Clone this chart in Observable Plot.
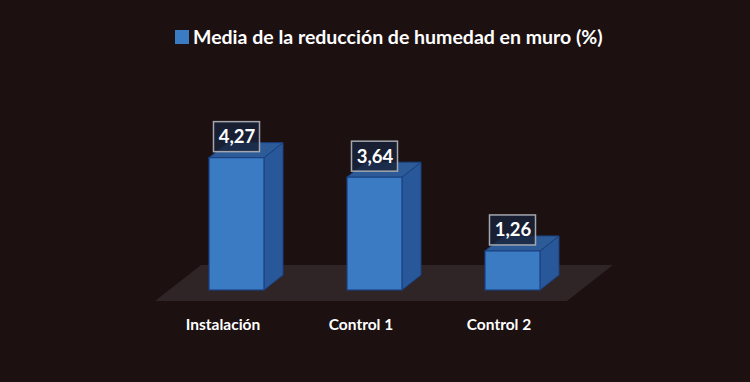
<!DOCTYPE html>
<html><head><meta charset="utf-8">
<script src="https://cdn.jsdelivr.net/npm/d3@7"></script>
<script src="https://cdn.jsdelivr.net/npm/@observablehq/plot@0.6"></script>
<style>
html,body{margin:0;padding:0;background:#1c1011;}
#wrap{position:relative;width:750px;height:382px;}
#legend{position:absolute;left:175px;top:25px;display:flex;align-items:center;font-family:Lato,sans-serif;font-weight:bold;font-size:19.5px;color:#fff;white-space:nowrap;}
#legend .sw{width:14px;height:14px;background:#3b7bc4;margin-right:4px;}
#chart{position:absolute;left:0;top:0;}
</style></head><body>
<div id="wrap"><div id="chart"></div><div id="legend"><span class="sw"></span><span>Media de la reducción de humedad en muro (%)</span></div></div>
<script>
const categories = ["Instalación", "Control 1", "Control 2"];
const values = [4.27, 3.64, 1.26];
const valueLabels = ["4,27", "3,64", "1,26"];

const hw = 0.1993, ddx = 0.1377, ddy = 0.4839;
const rows = categories.map((c, i) => ({c, i, v: values[i], label: valueLabels[i]}));
const sideFaces = rows.flatMap(d => [
  {c: d.c, x: d.i + hw, y1: 0, y2: d.v},
  {c: d.c, x: d.i + hw + ddx, y1: ddy, y2: d.v + ddy}
]);
const topFaces = rows.flatMap(d => [
  {c: d.c, y: d.v, x1: d.i - hw, x2: d.i + hw},
  {c: d.c, y: d.v + ddy, x1: d.i - hw + ddx, x2: d.i + hw + ddx}
]);
const floorPlane = [
  {y: -0.355, x1: -0.5906, x2: 2.3949},
  {y: 0.806, x1: -0.257, x2: 2.728}
];

const chart = Plot.plot({
  width: 750, height: 382,
  margin: 0,
  style: {background: "transparent", overflow: "visible"},
  x: {type: "linear", domain: [0, 2], range: [236.5, 512.5], axis: null},
  y: {type: "linear", domain: [0, 5], range: [290, 135], axis: null},
  marks: [
    Plot.areaX(floorPlane, {y: "y", x1: "x1", x2: "x2", fill: "#2f2526", curve: "linear"}),
    Plot.areaY(sideFaces, {x: "x", y1: "y1", y2: "y2", z: "c", fill: "#28579a", stroke: "#1a4180", strokeWidth: 1, curve: "linear"}),
    Plot.areaX(topFaces, {y: "y", x1: "x1", x2: "x2", z: "c", fill: "#2c5b98", stroke: "#1a4180", strokeWidth: 1, curve: "linear"}),
    Plot.rect(rows, {x1: d => d.i - hw, x2: d => d.i + hw, y1: 0, y2: "v", fill: "#3b7bc4", stroke: "#1a4180", strokeWidth: 1.2}),
    Plot.rect(rows, {x1: d => d.i - 0.1667, x2: d => d.i + 0.1667, y1: d => d.v + 0.677 - 0.484, y2: d => d.v + 0.677 + 0.484, fill: "#17233b", fillOpacity: 0.82, stroke: "#a3a6ad", strokeWidth: 1.5}),
    Plot.text(rows, {x: "i", y: d => d.v + 0.677, text: "label", fill: "#fff", fontSize: 18.5, fontWeight: "bold", fontFamily: "Lato, sans-serif"}),
    Plot.text(rows, {x: "i", y: -1.129, dx: -14, text: "c", fill: "#fff", fontSize: 15.5, fontWeight: "bold", fontFamily: "Lato, sans-serif"})
  ]
});
document.getElementById("chart").appendChild(chart);
</script>
</body></html>
